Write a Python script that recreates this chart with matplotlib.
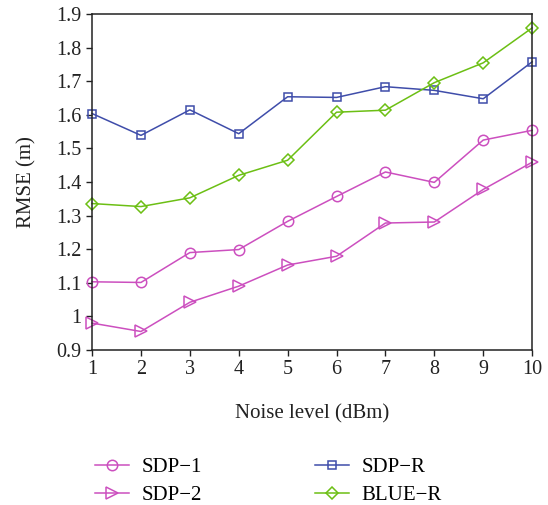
import matplotlib
matplotlib.use("Agg")
import matplotlib.pyplot as plt

plt.rcParams['font.family'] = ['Liberation Serif', 'DejaVu Serif']

noise = [1, 2, 3, 4, 5, 6, 7, 8, 9, 10]
sdp1 = [1.103, 1.101, 1.190, 1.199, 1.283, 1.357, 1.430, 1.399, 1.525, 1.554]
sdp2 = [0.980, 0.955, 1.042, 1.090, 1.153, 1.179, 1.278, 1.281, 1.378, 1.459]
sdpr = [1.604, 1.539, 1.615, 1.544, 1.654, 1.652, 1.684, 1.673, 1.648, 1.758]
bluer = [1.336, 1.327, 1.353, 1.420, 1.465, 1.608, 1.614, 1.696, 1.755, 1.859]
ytick_vals = [0.9, 1.0, 1.1, 1.2, 1.3, 1.4, 1.5, 1.6, 1.7, 1.8, 1.9]
ytick_labels = ['0.9', '1', '1.1', '1.2', '1.3', '1.4', '1.5', '1.6', '1.7', '1.8', '1.9']

pink = '#CC4FBF'
blue = '#3F4DAA'
green = '#6CBF14'

fig = plt.figure(figsize=(5.48, 5.05), dpi=100)
ax = fig.add_axes([0.168, 0.307, 0.803, 0.665])

kw = dict(lw=1.1, markerfacecolor='none', markeredgewidth=1.1, clip_on=False)
l1, = ax.plot(noise, sdp1, color=pink, marker='o', ms=7.5, label='SDP\u22121', **kw)
l2, = ax.plot(noise, sdp2, color=pink, marker='>', ms=8, label='SDP\u22122', **kw)
l3, = ax.plot(noise, sdpr, color=blue, marker='s', ms=6, label='SDP\u2212R', **kw)
l4, = ax.plot(noise, bluer, color=green, marker='D', ms=6.5, label='BLUE\u2212R', **kw)

ax.set_xlim(1, 10)
ax.set_ylim(0.9, 1.9)
ax.set_xticks(noise)
ax.set_yticks(ytick_vals)
ax.set_yticklabels(ytick_labels)
ax.tick_params(direction='out', length=4, width=1, labelsize=14.5, colors='#222222')
for s in ax.spines.values():
    s.set_linewidth(1.1)
    s.set_color('#222222')

ax.set_xlabel('Noise level (dBm)', fontsize=15, labelpad=18, color='#222222')
ax.set_ylabel('RMSE (m)', fontsize=15, labelpad=14, color='#222222')

fig.legend(handles=[l1, l2, l3, l4], loc='upper left', bbox_to_anchor=(0.139, 0.131),
           ncol=2, frameon=False, fontsize=15, handlelength=1.65, columnspacing=5.4,
           labelspacing=0.4, handletextpad=0.6)

fig.savefig('out.png', dpi=100)
